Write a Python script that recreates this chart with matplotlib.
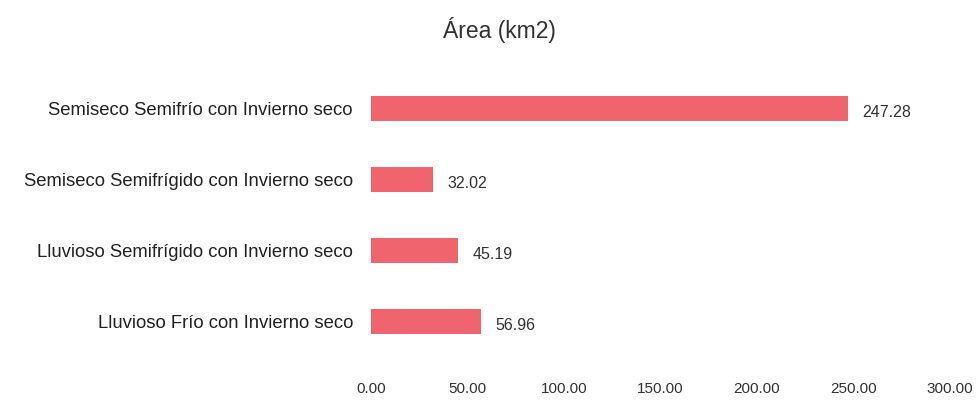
import matplotlib
matplotlib.use("Agg")
import matplotlib.pyplot as plt
from matplotlib import font_manager

categorias = ["Semiseco Semifrío con Invierno seco",
              "Semiseco Semifrígido con Invierno seco",
              "Lluvioso Semifrígido con Invierno seco",
              "Lluvioso Frío con Invierno seco"]
areas = [247.28, 32.02, 45.19, 56.96]
ticks = [0, 50, 100, 150, 200, 250, 300]

nombres = {f.name for f in font_manager.fontManager.ttflist}
fuente = "Liberation Sans Narrow" if "Liberation Sans Narrow" in nombres else "Liberation Sans"
plt.rcParams['font.family'] = [fuente, 'DejaVu Sans']

fig = plt.figure(figsize=(9.8, 4.03), dpi=100)
ax = fig.add_axes([371/980, 1 - 357/403, (950-371)/980, 284/403])

pos = list(range(len(categorias)))
ax.barh(pos, areas, height=0.36, color="#F0646E")
for p, v in zip(pos, areas):
    ax.text(v + 7.5, p + 0.05, f"{v:.2f}", va="center", ha="left", fontsize=11.5, color="#333333")

ax.set_ylim(len(categorias) - 0.5, -0.5)
ax.set_yticks(pos)
ax.set_yticklabels(categorias, fontsize=13.3, color="#222222")
ax.set_xlim(0, 300)
ax.set_xticks(ticks)
ax.set_xticklabels([f"{t:.2f}" for t in ticks], fontsize=11, color="#333333")
ax.tick_params(axis="both", length=0)
ax.tick_params(axis="x", pad=18)
ax.tick_params(axis="y", pad=13)
for s in ax.spines.values():
    s.set_visible(False)

fig.text(0.51, 0.925, "Área (km2)", ha="center", va="center", fontsize=16.5, color="#333333")

fig.savefig("out.png", dpi=100)
